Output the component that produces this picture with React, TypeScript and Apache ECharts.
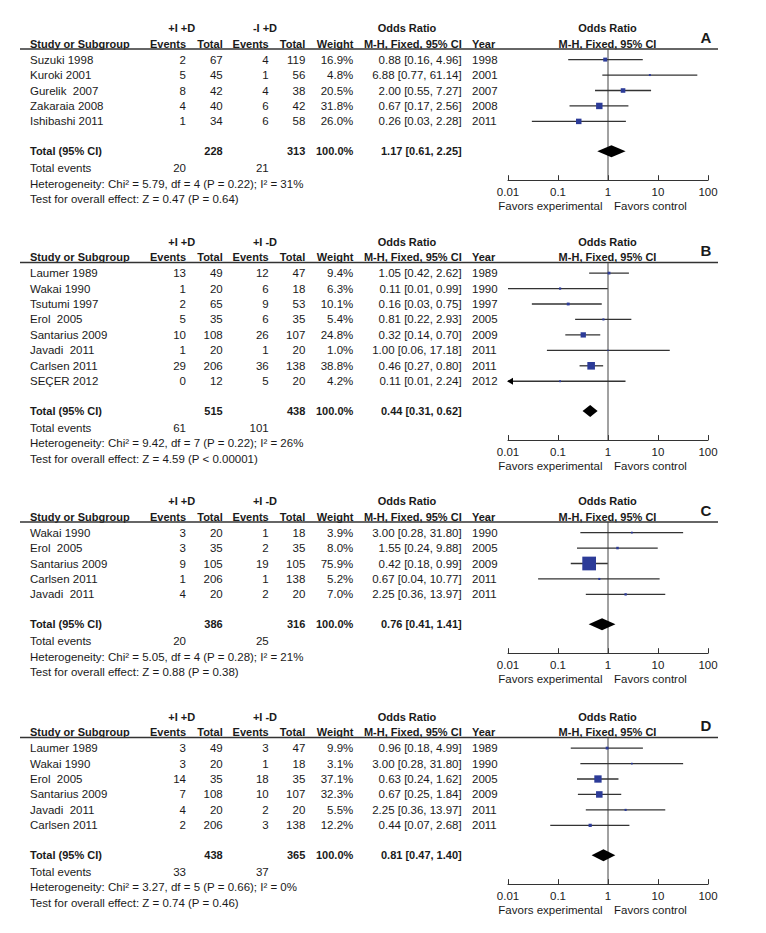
import React, { useEffect, useRef } from "react";
import * as echarts from "echarts";

// ---------------- Panel A ----------------
const studiesA = ["Suzuki 1998", "Kuroki 2001", "Gurelik  2007", "Zakaraia 2008", "Ishibashi 2011"];
const expEventsA = [2, 5, 8, 4, 1];
const expTotalA = [67, 45, 42, 40, 34];
const ctrlEventsA = [4, 1, 4, 6, 6];
const ctrlTotalA = [119, 56, 38, 42, 58];
const weightA = [16.9, 4.8, 20.5, 31.8, 26.0];
const orA = [0.88, 6.88, 2.0, 0.67, 0.26];
const lowerA = [0.16, 0.77, 0.55, 0.17, 0.03];
const upperA = [4.96, 61.14, 7.27, 2.56, 2.28];
const yearA = [1998, 2001, 2007, 2008, 2011];
const totalsA = [228, 313];
const totalOrA = [1.17, 0.61, 2.25];
const totalEventsA = [20, 21];
const groupsA = ["+I +D", "-I +D"];
const hetA = "Heterogeneity: Chi\u00b2 = 5.79, df = 4 (P = 0.22); I\u00b2 = 31%";
const testA = "Test for overall effect: Z = 0.47 (P = 0.64)";

// ---------------- Panel B ----------------
const studiesB = ["Laumer 1989", "Wakai 1990", "Tsutumi 1997", "Erol  2005", "Santarius 2009", "Javadi  2011", "Carlsen 2011", "SE\u00c7ER 2012"];
const expEventsB = [13, 1, 2, 5, 10, 1, 29, 0];
const expTotalB = [49, 20, 65, 35, 108, 20, 206, 12];
const ctrlEventsB = [12, 6, 9, 6, 26, 1, 36, 5];
const ctrlTotalB = [47, 18, 53, 35, 107, 20, 138, 20];
const weightB = [9.4, 6.3, 10.1, 5.4, 24.8, 1.0, 38.8, 4.2];
const orB = [1.05, 0.11, 0.16, 0.81, 0.32, 1.0, 0.46, 0.11];
const lowerB = [0.42, 0.01, 0.03, 0.22, 0.14, 0.06, 0.27, 0.006];
const upperB = [2.62, 0.99, 0.75, 2.93, 0.7, 17.18, 0.8, 2.24];
const yearB = [1989, 1990, 1997, 2005, 2009, 2011, 2011, 2012];
const totalsB = [515, 438];
const totalOrB = [0.44, 0.31, 0.62];
const totalEventsB = [61, 101];
const groupsB = ["+I +D", "+I -D"];
const hetB = "Heterogeneity: Chi\u00b2 = 9.42, df = 7 (P = 0.22); I\u00b2 = 26%";
const testB = "Test for overall effect: Z = 4.59 (P < 0.00001)";

// ---------------- Panel C ----------------
const studiesC = ["Wakai 1990", "Erol  2005", "Santarius 2009", "Carlsen 2011", "Javadi  2011"];
const expEventsC = [3, 3, 9, 1, 4];
const expTotalC = [20, 35, 105, 206, 20];
const ctrlEventsC = [1, 2, 19, 1, 2];
const ctrlTotalC = [18, 35, 105, 138, 20];
const weightC = [3.9, 8.0, 75.9, 5.2, 7.0];
const orC = [3.0, 1.55, 0.42, 0.67, 2.25];
const lowerC = [0.28, 0.24, 0.18, 0.04, 0.36];
const upperC = [31.8, 9.88, 0.99, 10.77, 13.97];
const yearC = [1990, 2005, 2009, 2011, 2011];
const totalsC = [386, 316];
const totalOrC = [0.76, 0.41, 1.41];
const totalEventsC = [20, 25];
const groupsC = ["+I +D", "+I -D"];
const hetC = "Heterogeneity: Chi\u00b2 = 5.05, df = 4 (P = 0.28); I\u00b2 = 21%";
const testC = "Test for overall effect: Z = 0.88 (P = 0.38)";

// ---------------- Panel D ----------------
const studiesD = ["Laumer 1989", "Wakai 1990", "Erol  2005", "Santarius 2009", "Javadi  2011", "Carlsen 2011"];
const expEventsD = [3, 3, 14, 7, 4, 2];
const expTotalD = [49, 20, 35, 108, 20, 206];
const ctrlEventsD = [3, 1, 18, 10, 2, 3];
const ctrlTotalD = [47, 18, 35, 107, 20, 138];
const weightD = [9.9, 3.1, 37.1, 32.3, 5.5, 12.2];
const orD = [0.96, 3.0, 0.63, 0.67, 2.25, 0.44];
const lowerD = [0.18, 0.28, 0.24, 0.25, 0.36, 0.07];
const upperD = [4.99, 31.8, 1.62, 1.84, 13.97, 2.68];
const yearD = [1989, 1990, 2005, 2009, 2011, 2011];
const totalsD = [438, 365];
const totalOrD = [0.81, 0.47, 1.4];
const totalEventsD = [33, 37];
const groupsD = ["+I +D", "+I -D"];
const hetD = "Heterogeneity: Chi\u00b2 = 3.27, df = 5 (P = 0.66); I\u00b2 = 0%";
const testD = "Test for overall effect: Z = 0.74 (P = 0.46)";

const panelLetters = ["A", "B", "C", "D"];
const axisTicks = [0.01, 0.1, 1, 10, 100];

// ---------------- layout / style ----------------
const FONT = "'Liberation Sans', Arial, Helvetica, sans-serif";
const TEXT = "#1a1a1a";
const BOX = "#2c3b98";
const WHISKER = "#333";
const PANEL_TOP = [28, 241.5, 501, 716.5];
const ROW_H = 15.45;
const PLOT_LEFT = 508;
const PLOT_W = 200;
const COLX = {
  study: 30, ev1: 186, tot1: 222.7, ev2: 268.7, tot2: 305.3, weight: 353.3,
  ci: 461.7, year: 472, grp1: 181.7, grp2: 265, orHead: 407, plotMid: 607.5,
  letter: 706, favL: 602.5, favR: 614, lineL: 20, lineR: 718,
};

const panels = [
  { studies: studiesA, e1: expEventsA, t1: expTotalA, e2: ctrlEventsA, t2: ctrlTotalA, w: weightA, or: orA, lo: lowerA, hi: upperA, year: yearA, totals: totalsA, totalOr: totalOrA, events: totalEventsA, groups: groupsA, het: hetA, test: testA },
  { studies: studiesB, e1: expEventsB, t1: expTotalB, e2: ctrlEventsB, t2: ctrlTotalB, w: weightB, or: orB, lo: lowerB, hi: upperB, year: yearB, totals: totalsB, totalOr: totalOrB, events: totalEventsB, groups: groupsB, het: hetB, test: testB },
  { studies: studiesC, e1: expEventsC, t1: expTotalC, e2: ctrlEventsC, t2: ctrlTotalC, w: weightC, or: orC, lo: lowerC, hi: upperC, year: yearC, totals: totalsC, totalOr: totalOrC, events: totalEventsC, groups: groupsC, het: hetC, test: testC },
  { studies: studiesD, e1: expEventsD, t1: expTotalD, e2: ctrlEventsD, t2: ctrlTotalD, w: weightD, or: orD, lo: lowerD, hi: upperD, year: yearD, totals: totalsD, totalOr: totalOrD, events: totalEventsD, groups: groupsD, het: hetD, test: testD },
];

const ciText = (o: number, l: number, h: number) => `${o.toFixed(2)} [${l.toFixed(2)}, ${h.toFixed(2)}]`;

function txt(text: string, x: number, y: number, align = "left", bold = false, size = 11.5) {
  return {
    type: "text",
    x,
    y,
    silent: true,
    style: {
      text,
      fill: TEXT,
      fontSize: size,
      fontWeight: bold ? "bold" : "normal",
      fontFamily: FONT,
      align,
      textAlign: align,
      verticalAlign: "middle",
      textVerticalAlign: "middle",
    },
  };
}

const X_MIN = axisTicks[0];
const X_MAX = axisTicks[axisTicks.length - 1];

function renderItem(params: any, api: any) {
  const o = api.value(0);
  const lo = api.value(1);
  const hi = api.value(2);
  const r = api.value(3);
  const w = api.value(4);
  const isTot = api.value(5);
  const a = api.coord([Math.max(lo, X_MIN), r]);
  const b = api.coord([Math.min(hi, X_MAX), r]);
  const c = api.coord([o, r]);
  const children: any[] = [];
  if (params.dataIndex === 0) {
    const cs = params.coordSys;
    const one = api.coord([1, r]);
    children.push({
      type: "line",
      shape: { x1: one[0], y1: cs.y, x2: one[0], y2: cs.y + cs.height },
      style: { stroke: "#444", lineWidth: 1 },
    });
  }
  if (isTot) {
    children.push({
      type: "polygon",
      shape: { points: [[a[0], a[1]], [c[0], c[1] - 6], [b[0], b[1]], [c[0], c[1] + 6]] },
      style: { fill: "#000" },
    });
    return { type: "group", children };
  }
  const s = 1.2 + 0.165 * w;
  children.push({
    type: "line",
    shape: { x1: a[0], y1: a[1], x2: b[0], y2: b[1] },
    style: { stroke: WHISKER, lineWidth: 1.3 },
  });
  children.push({
    type: "rect",
    shape: { x: c[0] - s / 2, y: c[1] - s / 2, width: s, height: s },
    style: { fill: BOX },
  });
  if (lo < X_MIN) {
    children.push({
      type: "polygon",
      shape: { points: [[a[0] - 1, a[1]], [a[0] + 5, a[1] - 3.5], [a[0] + 5, a[1] + 3.5]] },
      style: { fill: "#000" },
    });
  }
  return { type: "group", children };
}

function buildOption() {
  const grids: any[] = [];
  const xAxes: any[] = [];
  const yAxes: any[] = [];
  const series: any[] = [];
  const graphics: any[] = [];

  panels.forEach((p, k) => {
    const H = PANEL_TOP[k];
    const row2Y = H + 15.5;
    const lineY = H + 21;
    const firstY = H + 31.6;
    const n = p.studies.length;
    const lastY = firstY + (n - 1) * ROW_H;
    const totalY = lastY + 29.8;
    const eventsY = totalY + 16.7;
    const hetY = totalY + 32.3;
    const testY = hetY + 15.3;
    const axisY = hetY - 3.3;
    const totalIdx = (totalY - firstY) / ROW_H;

    grids.push({ left: PLOT_LEFT, top: lineY, width: PLOT_W, height: axisY - lineY });
    xAxes.push({
      type: "log",
      logBase: 10,
      gridIndex: k,
      min: X_MIN,
      max: X_MAX,
      splitNumber: 4,
      position: "bottom",
      axisLine: { show: true, onZero: false, lineStyle: { color: "#333", width: 1 } },
      axisTick: { show: true, inside: true, length: 5, lineStyle: { color: "#333", width: 1 } },
      splitLine: { show: false },
      axisLabel: {
        color: TEXT,
        fontSize: 11.5,
        fontFamily: FONT,
        margin: 6,
        showMinLabel: true,
        showMaxLabel: true,
        formatter: (v: number) => String(parseFloat(Number(v).toPrecision(2))),
      },
    });
    yAxes.push({
      type: "value",
      gridIndex: k,
      inverse: true,
      min: (lineY - firstY) / ROW_H,
      max: (axisY - firstY) / ROW_H,
      show: false,
    });

    const data: number[][] = p.studies.map((_, i) => [p.or[i], p.lo[i], p.hi[i], i, p.w[i], 0]);
    data.push([p.totalOr[0], p.totalOr[1], p.totalOr[2], totalIdx, 100, 1]);
    series.push({
      type: "custom",
      xAxisIndex: k,
      yAxisIndex: k,
      silent: true,
      encode: { x: 0, y: 3 },
      data,
      renderItem,
    });

    // headers
    graphics.push(txt(p.groups[0], COLX.grp1, H, "center", true, 11));
    graphics.push(txt(p.groups[1], COLX.grp2, H, "center", true, 11));
    graphics.push(txt("Odds Ratio", COLX.orHead, H, "center", true, 11));
    graphics.push(txt("Odds Ratio", COLX.plotMid, H, "center", true, 11));
    graphics.push(txt(panelLetters[k], COLX.letter, H + 9, "center", true, 15));
    graphics.push(txt("Study or Subgroup", COLX.study, row2Y, "left", true, 11));
    graphics.push(txt("Events", COLX.ev1, row2Y, "right", true, 11));
    graphics.push(txt("Total", COLX.tot1, row2Y, "right", true, 11));
    graphics.push(txt("Events", COLX.ev2, row2Y, "right", true, 11));
    graphics.push(txt("Total", COLX.tot2, row2Y, "right", true, 11));
    graphics.push(txt("Weight", COLX.weight, row2Y, "right", true, 11));
    graphics.push(txt("M-H, Fixed, 95% CI", COLX.ci, row2Y, "right", true, 11));
    graphics.push(txt("Year", COLX.year, row2Y, "left", true, 11));
    graphics.push(txt("M-H, Fixed, 95% CI", COLX.plotMid, row2Y, "center", true, 11));
    graphics.push({
      type: "line",
      silent: true,
      shape: { x1: COLX.lineL, y1: lineY, x2: COLX.lineR, y2: lineY },
      style: { stroke: "#333", lineWidth: 1.5 },
    });

    // study rows
    p.studies.forEach((name, i) => {
      const y = firstY + i * ROW_H;
      graphics.push(txt(name, COLX.study, y));
      graphics.push(txt(String(p.e1[i]), COLX.ev1, y, "right"));
      graphics.push(txt(String(p.t1[i]), COLX.tot1, y, "right"));
      graphics.push(txt(String(p.e2[i]), COLX.ev2, y, "right"));
      graphics.push(txt(String(p.t2[i]), COLX.tot2, y, "right"));
      graphics.push(txt(p.w[i].toFixed(1) + "%", COLX.weight, y, "right"));
      graphics.push(txt(ciText(p.or[i], p.lo[i], p.hi[i]), COLX.ci, y, "right"));
      graphics.push(txt(String(p.year[i]), COLX.year, y, "left"));
    });

    // totals
    graphics.push(txt("Total (95% CI)", COLX.study, totalY, "left", true, 11));
    graphics.push(txt(String(p.totals[0]), COLX.tot1, totalY, "right", true, 11));
    graphics.push(txt(String(p.totals[1]), COLX.tot2, totalY, "right", true, 11));
    graphics.push(txt("100.0%", COLX.weight, totalY, "right", true, 11));
    graphics.push(txt(ciText(p.totalOr[0], p.totalOr[1], p.totalOr[2]), COLX.ci, totalY, "right", true, 11));
    graphics.push(txt("Total events", COLX.study, eventsY));
    graphics.push(txt(String(p.events[0]), COLX.ev1, eventsY, "right"));
    graphics.push(txt(String(p.events[1]), COLX.ev2, eventsY, "right"));
    graphics.push(txt(p.het, COLX.study, hetY));
    graphics.push(txt(p.test, COLX.study, testY));

    // favours
    graphics.push(txt("Favors experimental", COLX.favL, axisY + 25.5, "right"));
    graphics.push(txt("Favors control", COLX.favR, axisY + 25.5, "left"));
  });

  return {
    animation: false,
    backgroundColor: "#ffffff",
    grid: grids,
    xAxis: xAxes,
    yAxis: yAxes,
    series,
    graphic: { elements: graphics },
  };
}

export default function App() {
  const ref = useRef<HTMLDivElement>(null);
  useEffect(() => {
    document.body.style.margin = "0";
    if (!ref.current) return;
    const chart = echarts.init(ref.current, undefined, { renderer: "svg" });
    chart.setOption(buildOption() as any);
    return () => chart.dispose();
  }, []);
  return (
    <div
      ref={ref}
      style={{ position: "absolute", left: 0, top: 0, width: 766, height: 933, background: "#fff" }}
    />
  );
}
